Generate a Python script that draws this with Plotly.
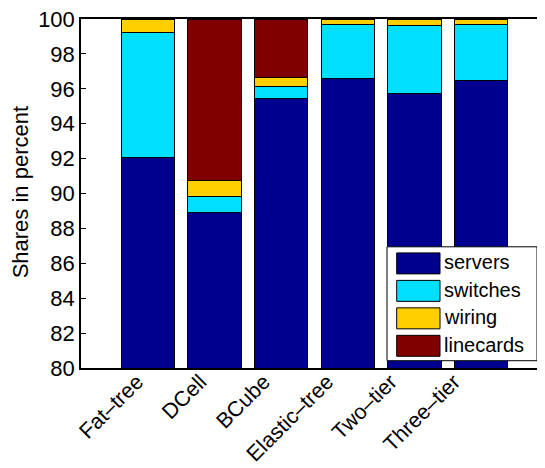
import plotly.graph_objects as go

categories = ["Fat–tree", "DCell", "BCube", "Elastic–tree", "Two–tier", "Three–tier"]
series_names = ["servers", "switches", "wiring", "linecards"]
servers = [92.04, 88.90, 95.45, 96.60, 95.75, 96.47]
switches = [7.18, 0.90, 0.68, 3.10, 3.90, 3.23]
wiring = [0.78, 0.96, 0.54, 0.30, 0.35, 0.30]
linecards = [0.00, 9.24, 3.33, 0.00, 0.00, 0.00]
colors = ["#00008F", "#00DFFF", "#FFCF00", "#800000"]
y_ticks = list(range(80, 101, 2))

series = [servers, switches, wiring, linecards]
xpos = list(range(1, len(categories) + 1))
FONT = "Liberation Sans, Arial, sans-serif"

# page body has an 8px margin, so figure coords = window coords - 8
OFF = 8
W, H = 545, 468
ML, MT = 81 - OFF, 19 - OFF
MR = W - (546 - OFF)
MB = H - (368.3 - OFF)
PW, PH = W - ML - MR, H - MT - MB

fig = go.Figure()
for name, vals, col in zip(series_names, series, colors):
    fig.add_trace(go.Bar(
        x=xpos, y=vals, name=name, width=0.8,
        marker=dict(color=col, line=dict(color="black", width=1)),
        showlegend=False,
    ))
# empty trace bound to the label axis (labels in MATLAB are spaced slightly tighter than bars)
fig.add_trace(go.Scatter(x=[], y=[], xaxis="x2", yaxis="y", showlegend=False, hoverinfo="skip"))

def px_x(p):
    return (p - OFF - ML) / PW

def px_y(p):
    return (MT + PH - (p - OFF)) / PH

# custom legend box (MATLAB style)
fig.add_shape(type="rect", xref="paper", yref="paper",
              x0=px_x(387), x1=px_x(537), y0=px_y(361), y1=px_y(247),
              line=dict(color="black", width=1), fillcolor="white", layer="above")
for i, (name, col) in enumerate(zip(series_names, colors)):
    yc = 263.6 + i * 27.5
    fig.add_shape(type="rect", xref="paper", yref="paper",
                  x0=px_x(396.7), x1=px_x(440), y0=px_y(yc + 10.5), y1=px_y(yc - 10.5),
                  line=dict(color="black", width=1), fillcolor=col, layer="above")
    fig.add_annotation(xref="paper", yref="paper", x=px_x(442), y=px_y(yc - 1),
                       text=name, showarrow=False, xanchor="left", yanchor="middle",
                       font=dict(family=FONT, size=20, color="black"))

# y-axis title
fig.add_annotation(xref="paper", yref="paper", x=px_x(20), y=px_y(192.5),
                   text="Shares in percent", showarrow=False, textangle=-90,
                   xanchor="center", yanchor="middle",
                   font=dict(family=FONT, size=22, color="black"))

bar_px = 66.67
lab_px = 63.4
lab_start = 1 - (147 - 81) / lab_px

fig.update_layout(
    barmode="stack",
    width=W, height=H,
    margin=dict(l=ML, r=MR, t=MT, b=MB),
    plot_bgcolor="white", paper_bgcolor="white",
    font=dict(family=FONT, size=22, color="black"),
    xaxis2=dict(
        overlaying="x", anchor="y", side="bottom",
        range=[lab_start, lab_start + PW / lab_px],
        tickvals=xpos, ticktext=categories, tickangle=-45,
        showline=False, ticks="", showgrid=False, zeroline=False, automargin=False,
        tickfont=dict(family=FONT, size=21.5),
        ticklabelshift=-10, ticklabelstandoff=-4, ticklabeloverflow="allow",
        fixedrange=True,
    ),
)
fig.update_xaxes(
    selector=dict(anchor="y", overlaying=None),
)
fig.layout.xaxis.update(
    range=[0, PW / bar_px], tickvals=xpos, showticklabels=False,
    showline=True, linecolor="black", linewidth=1.5, mirror=True,
    ticks="", showgrid=False, zeroline=False, automargin=False,
)
fig.update_yaxes(
    range=[80, 100], tickvals=y_ticks, ticks="inside", ticklen=5, tickwidth=1,
    tickcolor="black", showline=True, linecolor="black", linewidth=1.5,
    mirror="ticks", showgrid=False, zeroline=False, automargin=False,
    tickfont=dict(family=FONT, size=22), ticklabeloverflow="allow",
)

fig.write_html("out.html")
